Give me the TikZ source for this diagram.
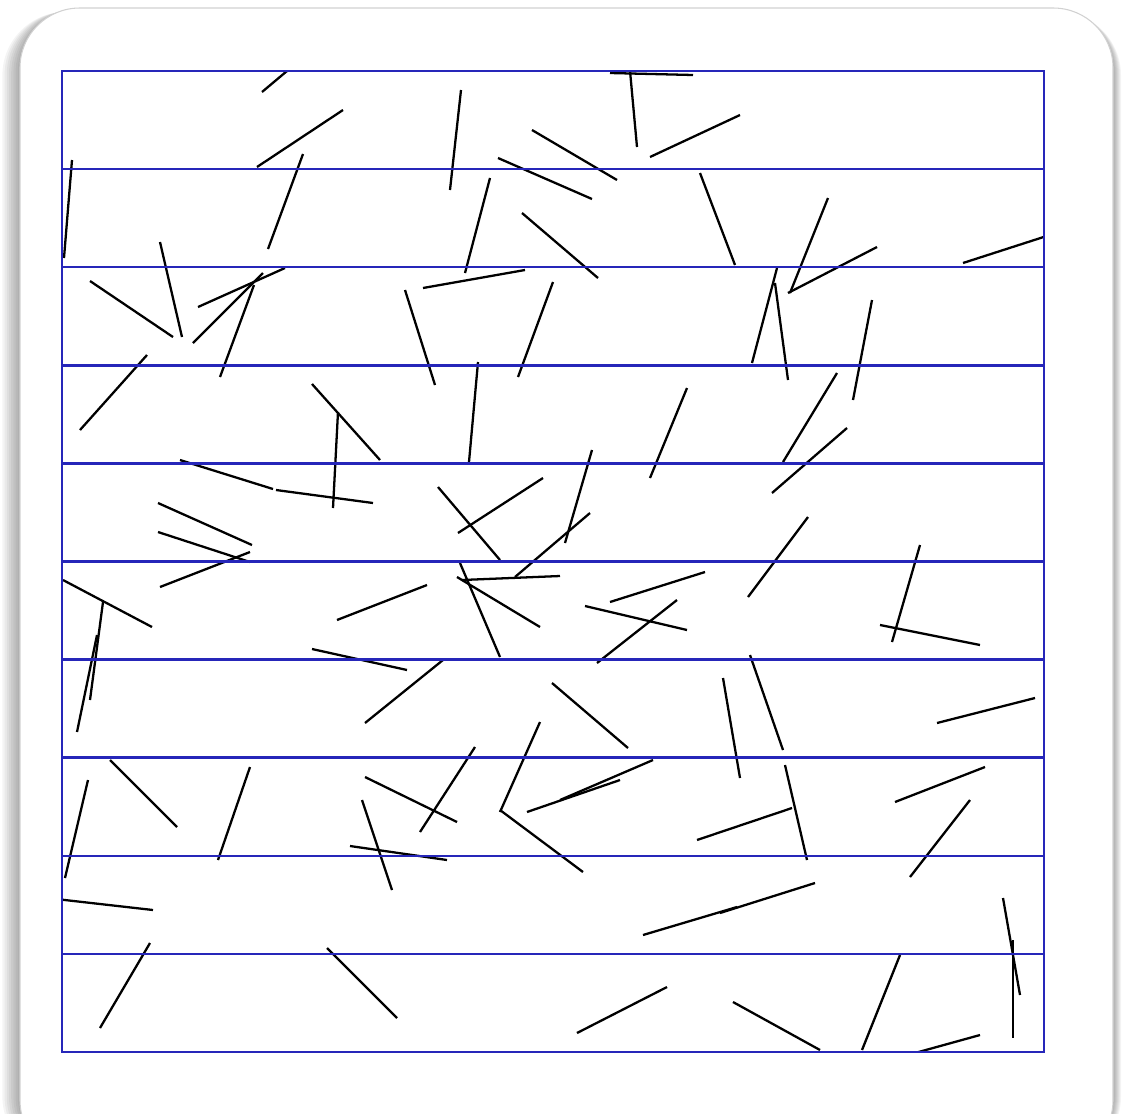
\documentclass[tikz,border=0pt]{standalone}
\begin{document}
\begin{tikzpicture}[x={(0.02cm,0)},y={(0,-0.02cm)},
  gridline/.style={draw=gridblue,line width=1.45pt},
  needle/.style={draw=black,line width=1.3pt,line cap=butt}]
\definecolor{gridblue}{RGB}{38,38,185}
\useasboundingbox (0,0) rectangle (1122,1113);
\fill[white] (0,0) rectangle (1122,1113);
% shadow of the card
\foreach \i in {1,...,8}{
  \fill[black,opacity=0.045,rounded corners=36] (20-2.2*\i,8+0.5*\i) rectangle (1113+1.0*\i,1160);
}
% card
\fill[white,rounded corners=34] (20,8) rectangle (1113,1160);
\draw[black!18,line width=0.6pt,rounded corners=34] (20,8) rectangle (1113,1160);
% needles
\begin{scope}
\clip (62,71) rectangle (1044,1052);
\foreach \xa/\ya/\xb/\yb in {
262/92/337/29, 257/167/343/110, 303/154/268/249, 72/160/64/258,
160/242/182/337, 90/281/173/337, 198/307/285/268, 193/343/263/273,
220/377/254/285, 80/430/147/355, 312/384/380/460, 461/90/450/190,
637/147/628/49, 610/73/693/75, 532/130/617/180, 498/158/592/199,
650/157/740/115, 490/178/465/273, 522/213/598/278, 423/288/525/270,
405/290/435/385, 553/282/518/377, 478/362/469/462, 687/388/650/478,
700/173/735/265, 828/198/790/293, 788/293/877/247, 777/268/752/363,
775/283/788/380, 872/300/853/400, 963/263/1056/233,
180/460/273/489, 276/490/373/503, 338/412/333/508, 158/503/252/545,
158/532/250/562, 160/587/250/552, 63/580/152/627, 103/602/90/700,
97/635/77/732, 337/620/427/585, 312/649/407/670, 365/723/443/660,
438/487/500/560, 458/533/543/478, 592/450/565/543, 590/513/515/577,
460/563/500/657, 457/577/540/627, 462/580/560/576, 610/602/705/572,
585/606/687/630, 597/663/677/600, 552/683/628/748, 540/722/500/812,
837/373/783/462, 847/428/772/493, 808/517/748/597, 920/545/892/642,
880/625/980/645, 750/655/783/750, 723/678/740/778, 937/723/1035/698,
110/760/177/827, 88/780/65/878, 250/767/218/860, 56/899/153/910,
100/1028/150/943, 327/948/397/1018, 362/800/392/890, 350/846/447/860,
365/777/457/822, 420/832/475/747, 500/810/583/872, 527/812/620/780,
560/800/653/760, 697/840/792/808, 785/765/807/860, 643/935/737/907,
720/913/815/883, 577/1033/667/987, 895/802/985/767, 970/800/910/877,
1003/898/1020/995, 1013/940/1013/1038, 733/1002/820/1050,
900/955/862/1050, 980/1035/886/1061}
  \draw[needle] (\xa,\ya) -- (\xb,\yb);
\end{scope}
% grid lines
\foreach \k in {1,...,9}{
  \draw[gridline] (62,71+98.1*\k) -- (1044,71+98.1*\k);
}
\draw[gridline] (62,71) rectangle (1044,1052);
\end{tikzpicture}
\end{document}
